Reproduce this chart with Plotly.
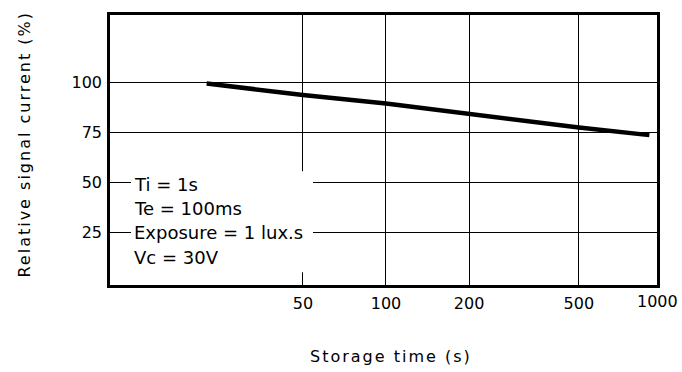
import plotly.graph_objects as go

# Relative signal current versus storage time
storage_time = [22.4, 50, 100, 200, 500, 900]
relative_current = [99.7, 93.9, 89.6, 84.3, 77.6, 73.8]

x_ticks = [50, 100, 200, 500]
x_tick_text = ["50", "100", "200", "500"]
y_ticks = [25, 50, 75, 100]
y_tick_text = ["25", "50", "75", "100"]
end_tick_text = "1000"

conditions = ["Ti = 1s", "Te = 100ms", "Exposure = 1 lux.s", "Vc = 30V"]
condition_rows = [49, 37, 25, 12.5]

FONT = "DejaVu Sans"
SPACED = "<span style='letter-spacing:{}px'>{}</span>"

# Page geometry in pixels
L, R, T, B, W, H = 110, 25, 12, 87, 682, 372
pw, ph = W - L - R, H - T - B


def px_x(x):
    return (x - L) / pw


def px_y(y):
    return (H - B - y) / ph


fig = go.Figure()
fig.add_trace(go.Scatter(
    x=storage_time, y=relative_current, mode="lines",
    line=dict(color="black", width=4.5),
    hoverinfo="skip", showlegend=False,
))

axis_common = dict(
    showline=True, linecolor="black", linewidth=2.5, mirror=True,
    showgrid=True, gridcolor="black", gridwidth=1.4,
    ticks="", zeroline=False,
    tickfont=dict(family=FONT, size=16, color="black"),
)

fig.update_xaxes(
    type="log", range=[1, 2.982],
    tickvals=x_ticks, ticktext=x_tick_text,
    ticklabelstandoff=2, **axis_common,
)
fig.update_yaxes(
    range=[-1.3, 134],
    tickvals=y_ticks, ticktext=y_tick_text,
    ticklabelstandoff=2, **axis_common,
)

# White panel behind the test conditions, breaking the grid lines
fig.add_shape(
    type="rect", xref="paper", yref="paper",
    x0=px_x(131), x1=px_x(313), y0=px_y(272), y1=px_y(170),
    fillcolor="white", line=dict(width=0), layer="above",
)

for text, row in zip(conditions, condition_rows):
    fig.add_annotation(
        x=px_x(132), xref="paper", y=row, yref="y",
        text=text, showarrow=False,
        xanchor="left", yanchor="middle",
        font=dict(family=FONT, size=18, color="black"),
    )

# Label for the right-hand end of the time axis
fig.add_annotation(
    x=1, xref="paper", y=px_y(302), yref="paper",
    text=end_tick_text, showarrow=False, xanchor="center", yanchor="middle",
    font=dict(family=FONT, size=16, color="black"),
)

fig.add_annotation(
    x=px_x(391), y=px_y(357), xref="paper", yref="paper",
    text=SPACED.format(2, "Storage time (s)"), showarrow=False,
    xanchor="center", yanchor="middle",
    font=dict(family=FONT, size=16, color="black"),
)
fig.add_annotation(
    x=px_x(25), y=px_y(143), xref="paper", yref="paper",
    text=SPACED.format(2, "Relative signal current (%)"), showarrow=False,
    textangle=-90, xanchor="center", yanchor="middle",
    font=dict(family=FONT, size=16, color="black"),
)

fig.update_layout(
    width=W, height=H,
    margin=dict(l=L, r=R, t=T, b=B),
    paper_bgcolor="white", plot_bgcolor="white",
    font=dict(family=FONT, color="black"),
)

fig.write_html("out.html", config={"displayModeBar": False})
